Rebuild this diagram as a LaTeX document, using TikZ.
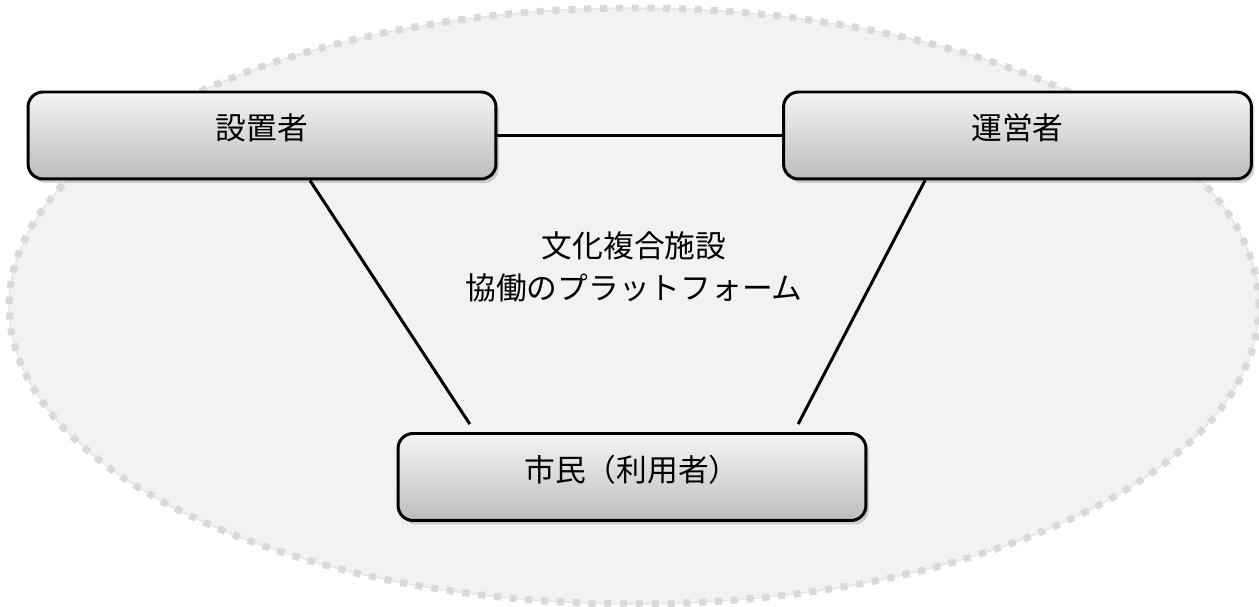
\documentclass[tikz,border=0pt]{standalone}
\usepackage{fontspec}
\setmainfont{Noto Sans CJK JP}
\usetikzlibrary{shadows,calc}
\definecolor{platfill}{HTML}{F2F2F2}
\definecolor{platdash}{HTML}{D9D9D9}
\definecolor{platline}{HTML}{E6E6E6}
\definecolor{boxtop}{HTML}{F4F4F4}
\definecolor{boxbot}{HTML}{BDBDBD}
\tikzset{
  actor/.style={draw=black, line width=1.7pt, rounded corners=0.3cm,
    top color=boxtop, bottom color=boxbot,
    drop shadow={opacity=0.35, shadow xshift=0.06cm, shadow yshift=-0.08cm},
    minimum width=9.36cm, minimum height=1.74cm,
    text height=0.5cm, text depth=0.32cm,
    font=\fontsize{17.5}{24}\selectfont},
  tie/.style={line width=1.7pt, black}
}
\begin{document}
\begin{tikzpicture}[x=0.02cm,y=-0.02cm]
\useasboundingbox (0,0) rectangle (1259,607);
% platform
\fill[platfill] (634,306) ellipse [x radius=12.5cm, y radius=5.96cm];
\draw[platline, line width=0.8pt] (634,306) ellipse [x radius=12.5cm, y radius=5.96cm];
\draw[platdash, line width=4pt, dash pattern=on 4pt off 5pt] (634,306) ellipse [x radius=12.5cm, y radius=5.96cm];
\node[align=center, font=\fontsize{17.5}{24}\selectfont] (title) at (634,267) {文化複合施設\\協働のプラットフォーム};
% actors
\node[actor] (set) at (262,135.5) {設置者};
\node[actor] (op) at (1017.5,135.5) {運営者};
\node[actor] (shimin) at (632,477) {市民（利用者）};
% ties
\draw[tie] (set.east) -- (op.west);
\draw[tie, shorten >=0.19cm] ($(set.south)+(48,0)$) -- ($(shimin.north)+(-157,0)$);
\draw[tie, shorten >=0.18cm] ($(op.south)+(-92.5,0)$) -- ($(shimin.north)+(162,0)$);
\end{tikzpicture}
\end{document}
